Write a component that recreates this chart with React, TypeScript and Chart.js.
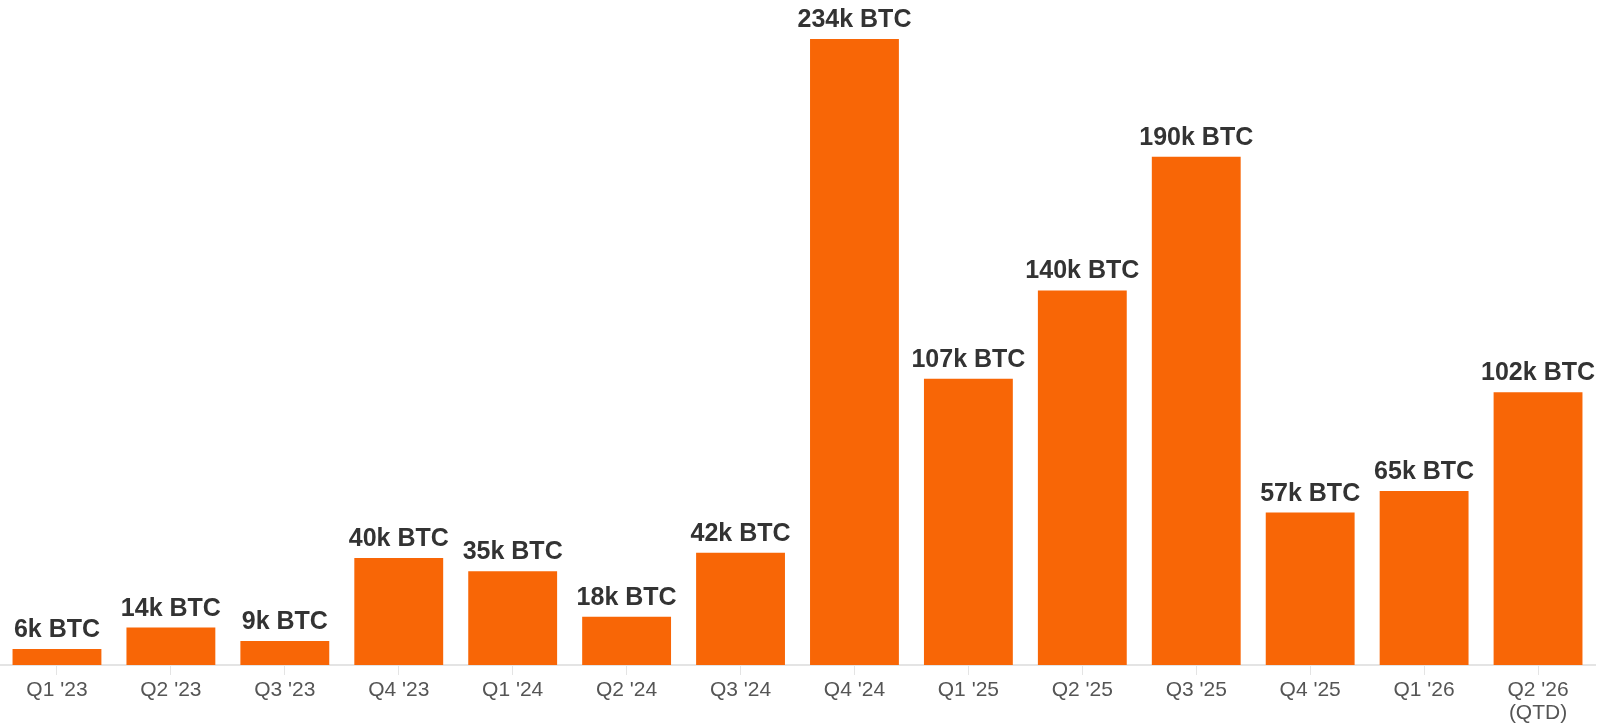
import React, { useEffect, useRef } from "react";
import { Chart, registerables } from "chart.js";

Chart.register(...registerables);

const categories: (string | string[])[] = [
  "Q1 '23", "Q2 '23", "Q3 '23", "Q4 '23",
  "Q1 '24", "Q2 '24", "Q3 '24", "Q4 '24",
  "Q1 '25", "Q2 '25", "Q3 '25", "Q4 '25",
  "Q1 '26", ["Q2 '26", "(QTD)"],
];
const btcK: number[] = [6, 14, 9, 40, 35, 18, 42, 234, 107, 140, 190, 57, 65, 102];
const labelSuffix = "k BTC";

const BAR_COLOR = "#f86606";
const LABEL_COLOR = "#333333";
const TICK_COLOR = "#555555";
const AXIS_COLOR = "#e4e4e4";

const valueLabels = {
  id: "valueLabels",
  afterDatasetsDraw(chart: any) {
    const ctx = chart.ctx;
    const meta = chart.getDatasetMeta(0);
    ctx.save();
    ctx.font = "bold 25px 'Liberation Sans', Arial, sans-serif";
    ctx.fillStyle = LABEL_COLOR;
    ctx.textAlign = "center";
    ctx.textBaseline = "alphabetic";
    meta.data.forEach((bar: any, i: number) => {
      ctx.fillText(`${btcK[i]}${labelSuffix}`, bar.x, bar.y - 12);
    });
    ctx.restore();
  },
};

export default function App() {
  const ref = useRef<HTMLCanvasElement | null>(null);
  useEffect(() => {
    if (!ref.current) return;
    const chart = new Chart(ref.current, {
      type: "bar",
      data: {
        labels: categories,
        datasets: [
          {
            data: btcK,
            backgroundColor: BAR_COLOR,
            barPercentage: 1,
            categoryPercentage: 0.78,
          },
        ],
      },
      options: {
        responsive: false,
        animation: false,
        layout: { padding: { top: 39, left: 0, right: 13, bottom: 0 } },
        plugins: {
          legend: { display: false },
          tooltip: { enabled: false },
        },
        scales: {
          x: {
            grid: {
              offset: false,
              drawOnChartArea: false,
              drawTicks: true,
              tickLength: 10,
              color: AXIS_COLOR,
            },
            border: { display: true, color: AXIS_COLOR, width: 2 },
            ticks: {
              color: TICK_COLOR,
              font: { family: "'Liberation Sans', Arial, sans-serif", size: 21, lineHeight: 1.1 },
              padding: 4,
              maxRotation: 0,
              autoSkip: false,
            },
            afterFit: (scale: any) => {
              scale.height = 62;
            },
          },
          y: {
            display: false,
            min: 0,
            max: 234,
          },
        },
      },
      plugins: [valueLabels],
    });
    return () => chart.destroy();
  }, []);
  return (
    <div style={{ position: "absolute", left: 0, top: 0, width: 1608, height: 727, background: "#fff" }}>
      <canvas ref={ref} width={1608} height={727} />
    </div>
  );
}
